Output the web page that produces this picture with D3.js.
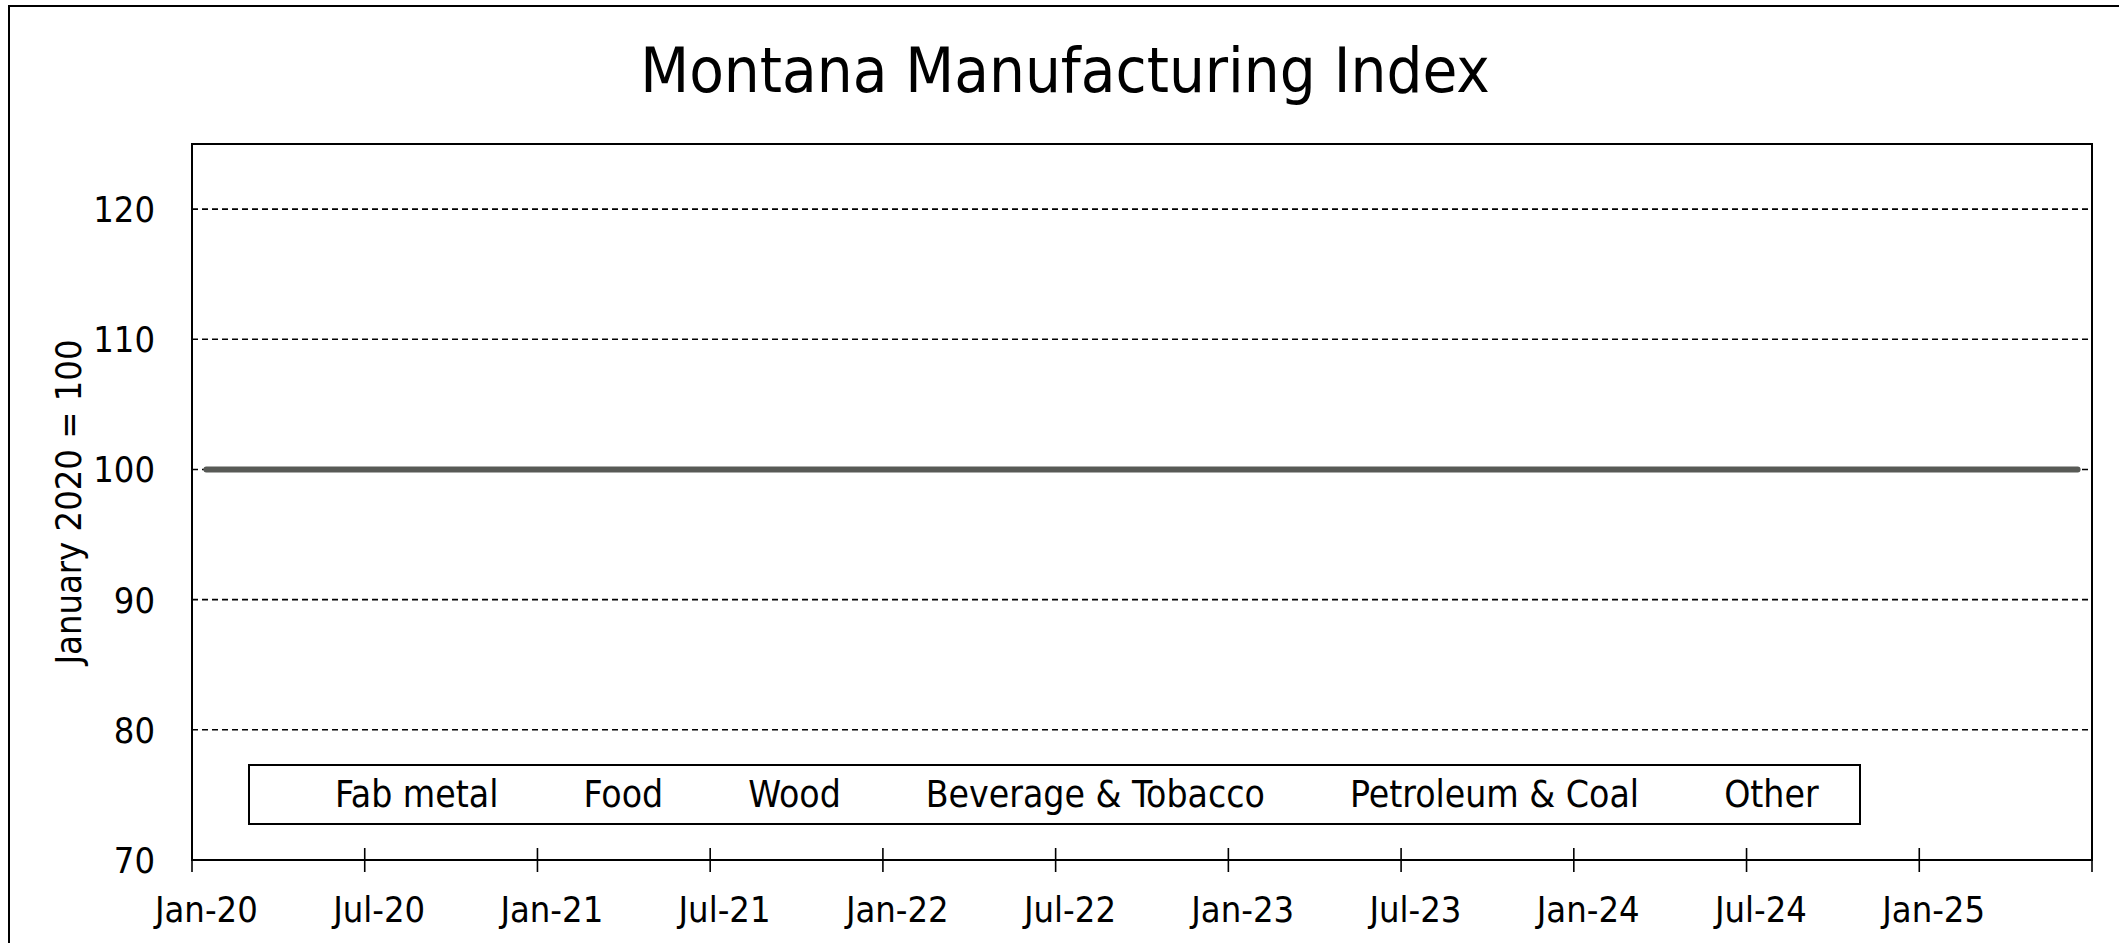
<!DOCTYPE html>
<html>
<head>
<meta charset="utf-8">
<script src="https://cdn.jsdelivr.net/npm/d3@7"></script>
<style>
  html, body { margin: 0; padding: 0; background: #ffffff; }
  svg { display: block; }
  text { font-family: "DejaVu Sans Condensed", "Liberation Sans", Arial, sans-serif; font-stretch: condensed; fill: #000; }
</style>
</head>
<body>
<svg id="chart" width="2119" height="943"></svg>
<script>
// ---------- data ----------
const title = "Montana Manufacturing Index";
const yAxisTitle = "January 2020 = 100";
const months = [
  "Jan-20","Feb-20","Mar-20","Apr-20","May-20","Jun-20","Jul-20","Aug-20","Sep-20","Oct-20","Nov-20","Dec-20",
  "Jan-21","Feb-21","Mar-21","Apr-21","May-21","Jun-21","Jul-21","Aug-21","Sep-21","Oct-21","Nov-21","Dec-21",
  "Jan-22","Feb-22","Mar-22","Apr-22","May-22","Jun-22","Jul-22","Aug-22","Sep-22","Oct-22","Nov-22","Dec-22",
  "Jan-23","Feb-23","Mar-23","Apr-23","May-23","Jun-23","Jul-23","Aug-23","Sep-23","Oct-23","Nov-23","Dec-23",
  "Jan-24","Feb-24","Mar-24","Apr-24","May-24","Jun-24","Jul-24","Aug-24","Sep-24","Oct-24","Nov-24","Dec-24",
  "Jan-25","Feb-25","Mar-25","Apr-25","May-25","Jun-25"
];
const indexValues = [
  100,100,100,100,100,100,100,100,100,100,100,100,
  100,100,100,100,100,100,100,100,100,100,100,100,
  100,100,100,100,100,100,100,100,100,100,100,100,
  100,100,100,100,100,100,100,100,100,100,100,100,
  100,100,100,100,100,100,100,100,100,100,100,100,
  100,100,100,100,100,100
];
const xTickLabels = ["Jan-20","Jul-20","Jan-21","Jul-21","Jan-22","Jul-22","Jan-23","Jul-23","Jan-24","Jul-24","Jan-25"];
const yTicks = [70, 80, 90, 100, 110, 120];
const yGridValues = [80, 90, 100, 110, 120];
const legendNames = ["Fab metal", "Food", "Wood", "Beverage & Tobacco", "Petroleum & Coal", "Other"];

// ---------- layout ----------
const svg = d3.select("#chart");
const plot = { left: 192, right: 2092, top: 144, bottom: 860 };

const x = d3.scaleBand().domain(months).range([plot.left, plot.right]).paddingInner(0).paddingOuter(0);
const y = d3.scaleLinear().domain([70, 125]).range([plot.bottom, plot.top]);

// outer chart frame (extends past the window on right/bottom)
svg.append("rect")
  .attr("x", 9).attr("y", 6).attr("width", 2200).attr("height", 1000)
  .attr("fill", "none").attr("stroke", "#000").attr("stroke-width", 2);

// title
svg.append("text")
  .attr("x", 1065).attr("y", 92)
  .attr("text-anchor", "middle")
  .style("font-size", "63px")
  .text(title);

// gridlines
svg.append("g").selectAll("line").data(yGridValues).join("line")
  .attr("x1", plot.left).attr("x2", plot.right)
  .attr("y1", d => y(d)).attr("y2", d => y(d))
  .attr("stroke", "#000").attr("stroke-width", 1.6)
  .attr("stroke-dasharray", "6,4");

// plot area border
svg.append("rect")
  .attr("x", plot.left).attr("y", plot.top)
  .attr("width", plot.right - plot.left).attr("height", plot.bottom - plot.top)
  .attr("fill", "none").attr("stroke", "#000").attr("stroke-width", 2);

// y tick labels
svg.append("g").selectAll("text").data(yTicks).join("text")
  .attr("x", 155).attr("y", d => y(d))
  .attr("text-anchor", "end").attr("dy", "0.36em")
  .style("font-size", "36px")
  .text(d => d);

// y axis title
svg.append("text")
  .attr("transform", `translate(81, ${(plot.top + plot.bottom) / 2}) rotate(-90)`)
  .attr("text-anchor", "middle")
  .style("font-size", "36px")
  .text(yAxisTitle);

// x tick marks at category boundaries every 6 months (crossing the axis)
const boundaryIdx = d3.range(0, months.length + 1, 6);
const bx = i => (i < months.length ? x(months[i]) : x.range()[1]);
svg.append("g").selectAll("line").data(boundaryIdx).join("line")
  .attr("x1", d => bx(d)).attr("x2", d => bx(d))
  .attr("y1", plot.bottom - 12).attr("y2", plot.bottom + 12)
  .attr("stroke", "#000").attr("stroke-width", 1.6);

// x tick labels centred on their category
svg.append("g").selectAll("text").data(xTickLabels).join("text")
  .attr("x", d => x(d) + x.bandwidth() / 2).attr("y", 922)
  .attr("text-anchor", "middle")
  .style("font-size", "36px")
  .text(d => d);

// series line
const line = d3.line()
  .x((d, i) => x(months[i]) + x.bandwidth() / 2)
  .y(d => y(d));
svg.append("path")
  .datum(indexValues)
  .attr("d", line)
  .attr("fill", "none")
  .attr("stroke", "#585a56")
  .attr("stroke-width", 6)
  .attr("stroke-linecap", "round")
  .attr("stroke-linejoin", "round");

// legend
const legend = svg.append("g");
legend.append("rect")
  .attr("x", 249).attr("y", 765).attr("width", 1611).attr("height", 59)
  .attr("fill", "#fff").attr("stroke", "#000").attr("stroke-width", 2);
let lx = 335;
const gap = 85;
legendNames.forEach(name => {
  const t = legend.append("text")
    .attr("x", lx).attr("y", 807)
    .style("font-size", "37px")
    .text(name);
  lx += t.node().getComputedTextLength() + gap;
});
</script>
</body>
</html>
